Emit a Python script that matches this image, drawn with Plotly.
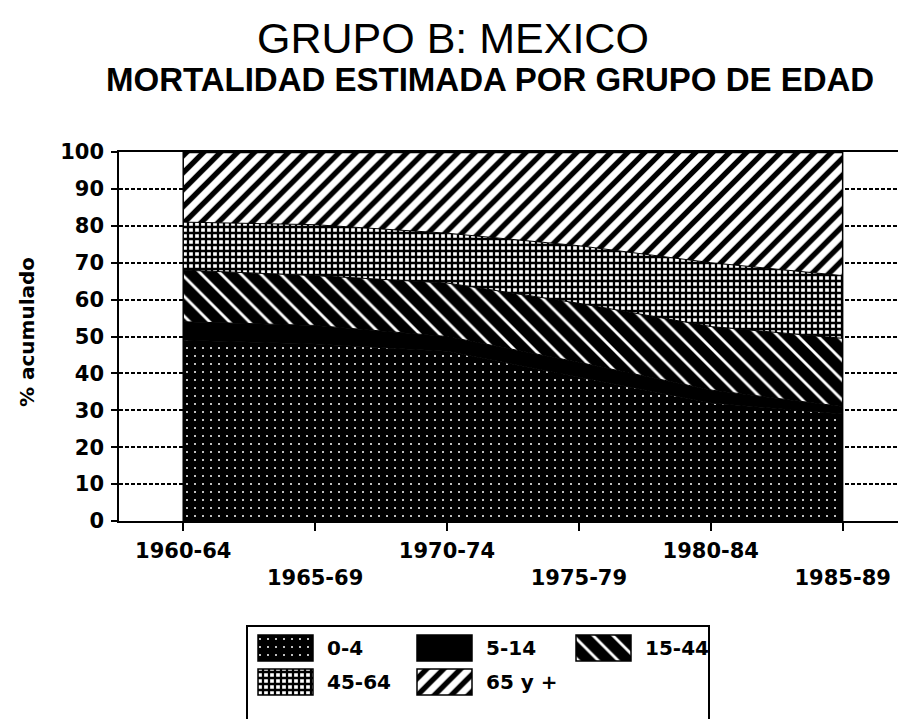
import plotly.graph_objects as go

# ---------------- data ----------------
periods = ["1960-64", "1965-69", "1970-74", "1975-79", "1980-84", "1985-89"]
groups = ["0-4", "5-14", "15-44", "45-64", "65 y +"]
g0_4 = [49, 48, 46, 39, 32, 29]
g5_14 = [5, 5, 4, 4, 3.5, 2]
g15_44 = [14, 13.5, 14.5, 16, 17.2, 18.5]
g45_64 = [13, 13.8, 13.5, 15.6, 17.3, 17]
g65 = [19, 19.7, 22, 25.4, 30, 33.5]
yticks = [0, 10, 20, 30, 40, 50, 60, 70, 80, 90, 100]

series = [g0_4, g5_14, g15_44, g45_64, g65]

# ---------------- styles ----------------
# the page body has an 8px margin; design in window pixels and convert
OFF = 8
W, H = 906 - OFF, 719 - OFF
AX_FONT = dict(family="DejaVu Sans", size=21, color="black")
patterns = [
    dict(shape=".", bgcolor="black", fgcolor="white", size=8, solidity=0.05),
    None,
    dict(shape="\\", bgcolor="black", fgcolor="white", size=14, solidity=0.2),
    dict(shape="+", bgcolor="white", fgcolor="black", size=6, solidity=0.62),
    dict(shape="/", bgcolor="white", fgcolor="black", size=12, solidity=0.45),
]

def px_x(px):
    return (px - OFF) / W

def px_y(py):
    return 1 - (py - OFF) / H

fig = go.Figure()

for i, (name, vals) in enumerate(zip(groups, series)):
    kw = dict(
        x=periods, y=vals, name=name, mode="lines", stackgroup="one",
        line=dict(color="black", width=2.5 if i == len(groups) - 1 else 1),
        showlegend=False, hoverinfo="skip", xaxis="x", yaxis="y",
    )
    if patterns[i] is None:
        kw["fillcolor"] = "black"
    else:
        kw["fillcolor"] = patterns[i]["bgcolor"]
        kw["fillpattern"] = dict(patterns[i], fgopacity=1, fillmode="replace")
    fig.add_trace(go.Scatter(**kw))

# outline at the first and last period
totals = [sum(v[j] for v in series) for j in range(len(periods))]
fig.add_trace(go.Scatter(
    x=[periods[0], periods[0], None, periods[-1], periods[-1]],
    y=[0, totals[0], None, 0, totals[-1]],
    mode="lines", line=dict(color="black", width=1.5),
    showlegend=False, hoverinfo="skip", xaxis="x", yaxis="y"))

# helper trace for the second (staggered) row of period labels
fig.add_trace(go.Scatter(x=periods[1::2], y=[None] * len(periods[1::2]),
                         mode="markers", showlegend=False, hoverinfo="skip",
                         xaxis="x2", yaxis="y"))

# ---------------- custom legend ----------------
COL_STEP = 159
SW_X0, SW_W, SW_H = 10, 55, 26
TXT_X0 = 77
ROW_Y = [21, 55]
for i, name in enumerate(groups):
    col, row = i % 3, i // 3
    p = patterns[i]
    marker = dict(color="black", line=dict(color="black", width=1.5))
    if p is not None:
        marker["color"] = p["bgcolor"]
        marker["pattern"] = dict(shape=p["shape"], bgcolor=p["bgcolor"],
                                 fgcolor=p["fgcolor"], size=p["size"],
                                 solidity=p["solidity"], fillmode="replace",
                                 fgopacity=1)
    fig.add_trace(go.Bar(
        x=[SW_X0 + col * COL_STEP + SW_W / 2], y=[SW_H],
        base=[ROW_Y[row] - SW_H / 2], width=[SW_W], marker=marker,
        showlegend=False, hoverinfo="skip", xaxis="x3", yaxis="y3"))
    fig.add_annotation(x=TXT_X0 + col * COL_STEP, y=ROW_Y[row], xref="x3", yref="y3",
                       text=f"<b>{name}</b>", showarrow=False, xanchor="left",
                       yanchor="middle", font=dict(family="DejaVu Sans", size=20, color="black"))

# ---------------- layout ----------------
XRANGE = [-0.487, 5.45]
LEG_L, LEG_R, LEG_T = 248, 708, 627

fig.update_layout(
    width=W, height=H, margin=dict(l=0, r=0, t=0, b=0, autoexpand=False),
    paper_bgcolor="white", plot_bgcolor="white", barmode="overlay",
    showlegend=False, font=dict(color="black"),
    xaxis=dict(
        domain=[px_x(119), px_x(902)], type="category", categoryarray=periods,
        range=XRANGE, tickvals=periods, automargin=False,
        ticktext=[f"<b>{p}</b>" if k % 2 == 0 else "" for k, p in enumerate(periods)],
        ticks="outside", ticklen=8, tickwidth=1.5, tickcolor="black",
        showline=True, linecolor="black", linewidth=2, mirror=True,
        showgrid=False, tickfont=AX_FONT, anchor="y", ticklabelstandoff=2,
    ),
    xaxis2=dict(
        overlaying="x", anchor="y", side="bottom", type="category",
        categoryarray=periods, range=XRANGE, tickvals=periods[1::2],
        ticktext=[f"<b>{p}</b>" for p in periods[1::2]], automargin=False,
        ticks="", showline=False, showgrid=False, tickfont=AX_FONT,
        ticklabelstandoff=42,
    ),
    yaxis=dict(
        domain=[px_y(521), px_y(152)], range=[0, 100], tickvals=yticks,
        ticktext=[f"<b>{v}</b>" for v in yticks], automargin=False,
        ticks="outside", ticklen=6, tickwidth=1.5, tickcolor="black",
        showline=True, linecolor="black", linewidth=1.5,
        showgrid=True, gridcolor="black", gridwidth=1.5, griddash="4px,2px",
        zeroline=False, tickfont=AX_FONT, anchor="x", ticklabelstandoff=3,
    ),
    xaxis3=dict(
        domain=[px_x(LEG_L), px_x(LEG_R)], range=[0, LEG_R - LEG_L],
        showline=True, linecolor="black", linewidth=1.5, side="top",
        showticklabels=False, ticks="", showgrid=False, zeroline=False,
        anchor="y3", fixedrange=True, automargin=False,
    ),
    yaxis3=dict(
        domain=[0, px_y(LEG_T)], range=[719 - LEG_T, 0],
        showline=True, linecolor="black", linewidth=1.5, mirror=True,
        showticklabels=False, ticks="", showgrid=False, zeroline=False,
        anchor="x3", fixedrange=True, automargin=False,
    ),
)

fig.add_annotation(x=px_x(453), y=px_y(38), xref="paper", yref="paper",
                   xanchor="center", yanchor="middle",
                   text="GRUPO B: MEXICO", showarrow=False,
                   font=dict(family="Liberation Sans", size=43, color="black"))
fig.add_annotation(x=px_x(490), y=px_y(80), xref="paper", yref="paper",
                   xanchor="center", yanchor="middle",
                   text="<b>MORTALIDAD ESTIMADA POR GRUPO DE EDAD</b>", showarrow=False,
                   font=dict(family="Liberation Sans", size=33, color="black"))
fig.add_annotation(x=px_x(27), y=px_y(332), xref="paper", yref="paper",
                   xanchor="center", yanchor="middle",
                   text="<b>% acumulado</b>", showarrow=False, textangle=-90,
                   font=dict(family="DejaVu Sans", size=20, color="black"))

fig.write_html("out.html")
